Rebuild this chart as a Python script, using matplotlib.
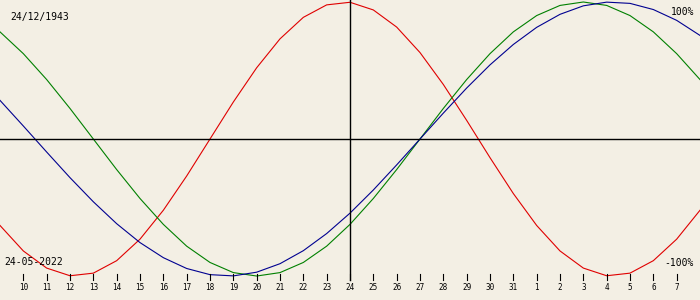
import matplotlib
matplotlib.use("Agg")
import matplotlib.pyplot as plt
import matplotlib.transforms as mtransforms

# Days shown: 9 May .. 8 June 2022 (index 0..30)
day_labels = ["9", "10", "11", "12", "13", "14", "15", "16", "17", "18", "19", "20",
              "21", "22", "23", "24", "25", "26", "27", "28", "29", "30", "31",
              "1", "2", "3", "4", "5", "6", "7", "8"]

physical = [-0.631, -0.817, -0.942, -0.998, -0.979, -0.888, -0.731, -0.520, -0.270, 0.000,
            0.270, 0.520, 0.731, 0.888, 0.979, 0.998, 0.942, 0.817, 0.631, 0.398,
            0.136, -0.136, -0.398, -0.631, -0.817, -0.942, -0.998, -0.979, -0.888, -0.731,
            -0.520]
emotional = [0.782, 0.623, 0.434, 0.223, 0.000, -0.223, -0.434, -0.623, -0.782, -0.901,
             -0.975, -1.000, -0.975, -0.901, -0.782, -0.623, -0.434, -0.223, 0.000, 0.223,
             0.434, 0.623, 0.782, 0.901, 0.975, 1.000, 0.975, 0.901, 0.782, 0.623,
             0.434]
intellectual = [0.282, 0.095, -0.095, -0.282, -0.458, -0.618, -0.756, -0.866, -0.945, -0.990,
                -0.999, -0.972, -0.910, -0.815, -0.690, -0.541, -0.372, -0.189, 0.000, 0.189,
                0.372, 0.541, 0.690, 0.815, 0.910, 0.972, 0.999, 0.990, 0.945, 0.866,
                0.756]

birth_label = "24/12/1943"
date_label = "24-05-2022"
today_index = 15

bg = "#f3efe4"
fig = plt.figure(figsize=(7, 3), dpi=100, facecolor=bg)
ax = fig.add_axes([0, 0, 1, 1], facecolor=bg)
x = list(range(len(day_labels)))

ax.plot(x, physical, color="#e00000", lw=0.8)
ax.plot(x, emotional, color="#008000", lw=0.8)
ax.plot(x, intellectual, color="#000090", lw=0.8)

ax.set_xlim(0, len(day_labels) - 1)
ax.set_ylim(-1.175, 1.0146)
for s in ax.spines.values():
    s.set_visible(False)
ax.set_xticks([])
ax.set_yticks([])

ax.axhline(0, color="black", lw=1.0)
ax.axvline(today_index, ymin=0.0667, ymax=1, color="black", lw=1.0)

trans = mtransforms.blended_transform_factory(ax.transData, ax.transAxes)
mono = "DejaVu Sans Mono"
for i in range(1, len(day_labels) - 1):
    ax.plot([i, i], [0.0667, 0.0867], transform=trans, color="black", lw=0.8)
    ax.text(i, 0.04, day_labels[i], transform=trans, ha="center", va="center",
            fontsize=5.5, family=mono, color="black")

ax.text(10 / 700, 0.943, birth_label, transform=ax.transAxes, ha="left", va="center",
        fontsize=7, family=mono, color="black")
ax.text(4 / 700, 0.128, date_label, transform=ax.transAxes, ha="left", va="center",
        fontsize=7, family=mono, color="black")
ax.text(694 / 700, 0.96, "100%", transform=ax.transAxes, ha="right", va="center",
        fontsize=7, family=mono, color="black")
ax.text(694 / 700, 0.124, "-100%", transform=ax.transAxes, ha="right", va="center",
        fontsize=7, family=mono, color="black")

fig.savefig("out.png", dpi=100, facecolor=bg)
